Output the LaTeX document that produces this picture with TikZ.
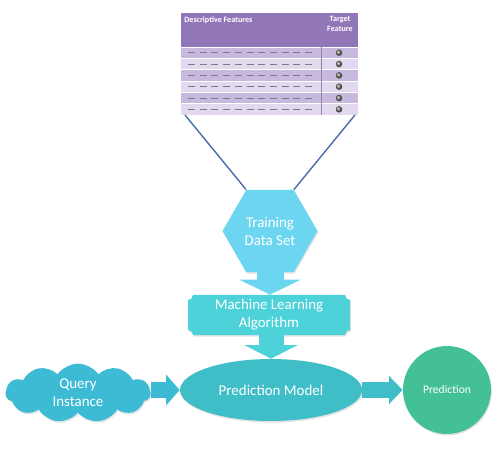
\documentclass[tikz,border=0pt]{standalone}
\usepackage{fontspec}
\setmainfont{Carlito}
\usetikzlibrary{shapes.geometric,shapes.symbols,shadows,arrows.meta}
\definecolor{headpurple}{RGB}{146,119,184}
\definecolor{rowdark}{RGB}{199,185,222}
\definecolor{rowlight}{RGB}{226,217,239}
\definecolor{colline}{RGB}{150,130,182}
\definecolor{dashgray}{RGB}{125,120,140}
\definecolor{linkblue}{RGB}{72,110,170}
\definecolor{traincol}{RGB}{108,214,241}
\definecolor{algocol}{RGB}{78,210,218}
\definecolor{modelcol}{RGB}{64,190,200}
\definecolor{querycol}{RGB}{62,187,212}
\definecolor{predcol}{RGB}{68,192,152}

\begin{document}
\begin{tikzpicture}[x=0.02cm,y=-0.02cm,
    lbl/.style={text=white,font=\fontsize{8.5}{10.3}\selectfont,align=center,inner sep=0pt},
    soft/.style={drop shadow={opacity=0.22,shadow xshift=0.5pt,shadow yshift=-0.9pt}},
    hdr/.style={text=white,font=\fontsize{4.6}{5.4}\selectfont\bfseries,inner sep=0pt}]
    \useasboundingbox (0,0) rectangle (500,452);

    % data table
    \fill[headpurple] (181,13) rectangle (358,47);
    \foreach \i/\rc in {0/rowdark,1/rowlight,2/rowdark,3/rowlight,4/rowdark,5/rowlight} {
        \fill[\rc] (181,{47+11.33*\i}) rectangle (358,{58.33+11.33*\i});
        \draw[white,line width=0.4pt] (181,{47+11.33*\i}) -- (358,{47+11.33*\i});
        \foreach \j in {0,...,10}
            \draw[dashgray,line width=0.45pt] ({188+11.7*\j},{52.7+11.33*\i}) -- ++(7,0);
        \shade[ball color=black!55] (339,{52.7+11.33*\i}) circle[radius=0.065cm];
    }
    \draw[colline,line width=0.5pt] (321,47) -- (321,115);
    \node[hdr,anchor=north west] (desc) at (184,16) {Descriptive Features};
    \node[hdr,anchor=north,align=center] (target) at (340,16) {Target\\Feature};
    \coordinate (tblleft) at (185,115);
    \coordinate (tblright) at (355,115);

    % shapes
    \node[lbl,soft,regular polygon,regular polygon sides=6,minimum size=1.9cm,fill=traincol] (train) at (270,231) {Training\\Data Set};
    \fill[algocol,soft] (193,295) -- (345,295) arc[start angle=180,end angle=90,radius=5]
        -- (350,330) arc[start angle=270,end angle=180,radius=5]
        -- (193,335) arc[start angle=0,end angle=-90,radius=5]
        -- (188,300) arc[start angle=90,end angle=0,radius=5] -- cycle;
    \node[lbl,minimum width=3.24cm,minimum height=0.8cm] (algo) at (269,315) {Machine Learning\\Algorithm};
    \node[lbl,soft,ellipse,minimum width=3.64cm,minimum height=1.24cm,fill=modelcol] (model) at (271,390) {Prediction Model};
    \node[lbl,soft,cloud,cloud puffs=11,cloud puff arc=110,aspect=3.6,minimum width=2.9cm,minimum height=0.82cm,fill=querycol] (query) at (78,393) {Query\\Instance};
    \node[lbl,soft,circle,minimum size=1.76cm,fill=predcol,font=\fontsize{6.6}{8}\selectfont] (pred) at (447,390) {Prediction};

    % connectors
    \draw[linkblue,line width=0.8pt] (tblleft) -- (train.120);
    \draw[linkblue,line width=0.8pt] (tblright) -- (train.60);
    \draw[traincol,line width=0.54cm,-{Triangle[width=1.22cm,length=0.3cm]}] (train.south) -- (train.south |- algo.north);
    \draw[algocol,line width=0.5cm,-{Triangle[width=1.05cm,length=0.27cm]}] (algo.south -| model.north) -- (model.north);
    \draw[querycol,line width=0.34cm,-{Triangle[width=0.6cm,length=0.27cm]}] (query.east |- model.west) -- (model.west);
    \draw[modelcol,line width=0.31cm,-{Triangle[width=0.54cm,length=0.27cm]}] (model.east) -- (pred.west);
\end{tikzpicture}
\end{document}
